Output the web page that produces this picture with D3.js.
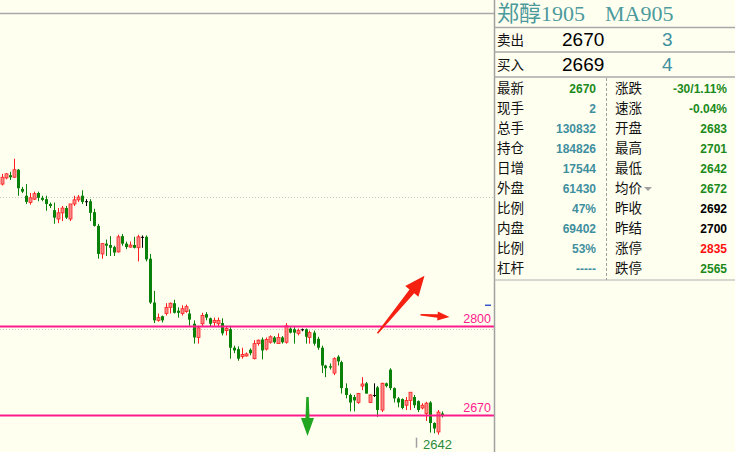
<!DOCTYPE html>
<html>
<head>
<meta charset="utf-8">
<script src="https://cdn.jsdelivr.net/npm/d3@7"></script>
<style>
  html, body { margin: 0; padding: 0; background: #fffff0; }
  svg { display: block; }
</style>
</head>
<body>
<svg id="chart" width="735" height="452"></svg>
<script>
// ---- candle series (price units) ----
const opens  = [3008,3017,3021,3018,3029,3001,2991,2981,2986,2995,2988,2986,2979,2970,2957,2966,2973,2957,2979,2985,
                2991,2983,2983,2967,2947,2906,2921,2919,2916,2909,2932,2921,2916,2919,2915,2931,2931,2899,2835,2809,
                2815,2819,2828,2834,2823,2819,2822,2819,2804,2784,2804,2818,2812,2806,2804,2805,2794,2796,2769,2767,
                2756,2757,2766,2753,2775,2781,2767,2777,2784,2775,2784,2777,2797,2796,2790,2796,2796,2784,2791,2782,
                2769,2743,2742,2732,2756,2748,2710,2700,2697,2689,2713,2717,2689,2700,2711,2678,2717,2737,2710,2695,
                2694,2685,2692,2697,2691,2681,2673,2689,2659,2646,2673];
const highs  = [3023,3024,3026,3045,3030,3004,3008,2995,2997,2997,2991,2991,2981,2981,2973,2976,2976,2979,2991,2992,
                2999,2986,2986,2972,2950,2922,2927,2932,2918,2934,2935,2924,2924,2931,2934,2933,2933,2906,2852,2819,
                2816,2834,2835,2839,2828,2831,2832,2825,2809,2801,2820,2821,2813,2813,2813,2812,2800,2801,2772,2771,
                2769,2762,2768,2780,2781,2784,2784,2787,2786,2790,2786,2805,2799,2799,2797,2797,2797,2794,2794,2785,
                2772,2744,2746,2755,2758,2750,2717,2702,2700,2703,2726,2719,2701,2717,2713,2718,2718,2739,2711,2697,
                2695,2697,2704,2700,2692,2688,2690,2691,2660,2678,2676];
const lows   = [3006,3015,3014,3017,2991,2995,2979,2978,2985,2983,2983,2969,2973,2950,2951,2954,2957,2954,2976,2982,
                2979,2976,2954,2946,2899,2899,2903,2903,2903,2908,2918,2913,2915,2914,2895,2915,2895,2833,2805,2807,
                2806,2816,2819,2819,2813,2816,2820,2801,2775,2775,2801,2809,2800,2801,2799,2787,2787,2753,2761,2750,
                2753,2756,2758,2752,2772,2752,2765,2775,2775,2775,2775,2775,2790,2775,2787,2793,2775,2775,2772,2766,
                2732,2726,2737,2729,2743,2702,2695,2676,2676,2687,2707,2702,2688,2697,2668,2675,2711,2707,2689,2682,
                2679,2678,2678,2681,2675,2679,2662,2645,2644,2642,2667];
const closes = [3018,3023,3018,3029,3002,2997,2982,2988,2994,2988,2985,2979,2976,2959,2966,2973,2959,2979,2985,2989,
                2982,2983,2966,2947,2906,2921,2918,2915,2908,2931,2921,2916,2919,2915,2931,2931,2898,2835,2809,2813,
                2809,2828,2834,2820,2820,2826,2829,2810,2784,2798,2816,2813,2804,2809,2809,2790,2797,2769,2765,2753,
                2759,2760,2761,2775,2780,2765,2781,2785,2777,2784,2777,2801,2791,2791,2794,2796,2785,2791,2775,2769,
                2743,2739,2740,2753,2749,2710,2700,2689,2692,2702,2716,2702,2700,2700,2678,2717,2713,2710,2695,2689,
                2681,2692,2704,2685,2678,2685,2688,2659,2651,2675,2670];

// ---- reference levels ----
const levelPrices = [2800, 2670];
const gridPrices  = [2989, 2796];
const limitMarkPrice = 2831;
const dayLow = 2642;

// ---- annotation arrows: [tailIndex, tailPrice, tipIndex, tipPrice] ----
const upArrow    = [94, 2790, 105.75, 2874];
const sideArrow  = [104.75, 2817, 112, 2814];
const downArrow  = [76.5, 2697, 76.5, 2640];

// ---- quote panel ----
const titleText = ['郑醇1905', 'MA905'];
const quoteLabels = ['卖出', '买入'];
const quotePrices = ['2670', '2669'];
const quoteVolumes = ['3', '4'];
const leftLabels  = ['最新','现手','总手','持仓','日增','外盘','比例','内盘','比例','杠杆'];
const leftValues  = ['2670','2','130832','184826','17544','61430','47%','69402','53%','-----'];
const rightLabels = ['涨跌','速涨','开盘','最高','最低','均价','昨收','昨结','涨停','跌停'];
const rightValues = ['-30/1.11%','-0.04%','2683','2701','2642','2672','2692','2700','2835','2565'];

const TEAL = '#3f8f9f', GREEN = '#1b8a1b', RED = '#ff1010', PINK = '#ff1a8c';
const leftColors  = [GREEN, TEAL, TEAL, TEAL, TEAL, TEAL, TEAL, TEAL, TEAL, TEAL];
const rightColors = [GREEN, GREEN, GREEN, GREEN, GREEN, GREEN, '#000', '#000', RED, GREEN];

const svg = d3.select('#chart');
const W = 735, H = 452, plotRight = 494, plotTop = 13;

svg.append('rect').attr('width', W).attr('height', H).attr('fill', '#fffff0');

const x = d3.scaleLinear().domain([0, 110]).range([1.5, 441.5]);
const y = d3.scaleLinear().domain([2670, 2800]).range([415.5, 326.5]);

svg.append('clipPath').attr('id', 'plotclip')
  .append('rect').attr('x', 0).attr('y', plotTop).attr('width', plotRight).attr('height', H - plotTop);
const plot = svg.append('g').attr('clip-path', 'url(#plotclip)');

// dotted grid lines
plot.selectAll('line.grid').data(gridPrices).join('line')
  .attr('x1', 0).attr('x2', plotRight)
  .attr('y1', d => Math.round(y(d)) + 0.5).attr('y2', d => Math.round(y(d)) + 0.5)
  .attr('stroke', '#c4c4c4').attr('stroke-dasharray', '1,2');

// candles
const candles = d3.range(opens.length).map(i => ({ i, o: opens[i], h: highs[i], l: lows[i], c: closes[i] }));
const colorOf = d => d.c > d.o ? '#ff1c1c' : (d.c < d.o ? '#0a820a' : '#000');

const cg = plot.selectAll('g.candle').data(candles).join('g');
cg.append('line')
  .attr('x1', d => Math.round(x(d.i)) + 0.5).attr('x2', d => Math.round(x(d.i)) + 0.5)
  .attr('y1', d => y(d.h)).attr('y2', d => y(d.l))
  .attr('stroke', colorOf).attr('stroke-width', 1);
cg.append('rect')
  .attr('x', d => Math.round(x(d.i)) - 1)
  .attr('width', 3)
  .attr('y', d => y(Math.max(d.o, d.c)))
  .attr('height', d => Math.max(1, Math.abs(y(d.o) - y(d.c))))
  .attr('fill', d => d.c > d.o ? '#f58a8a' : colorOf(d))
  .attr('stroke', d => d.c > d.o ? '#ff2020' : 'none')
  .attr('stroke-width', 0.8);

// horizontal price levels
plot.selectAll('line.level').data(levelPrices).join('line')
  .attr('x1', 0).attr('x2', plotRight)
  .attr('y1', d => y(d)).attr('y2', d => y(d))
  .attr('stroke', PINK).attr('stroke-width', 2);
plot.selectAll('text.level').data(levelPrices).join('text')
  .attr('x', 491).attr('y', d => y(d) - 3.5)
  .attr('text-anchor', 'end')
  .attr('font-family', 'Liberation Sans, Arial, sans-serif').attr('font-size', 12.5)
  .attr('fill', PINK).text(d => d);

// limit marker on the right edge
plot.append('line')
  .attr('x1', 485).attr('x2', 491)
  .attr('y1', y(limitMarkPrice)).attr('y2', y(limitMarkPrice))
  .attr('stroke', '#3355cc').attr('stroke-width', 1.5);

// day low marker
const lowIdx = lows.indexOf(d3.min(lows));
plot.append('line')
  .attr('x1', Math.round(x(lowIdx)) - 21.5).attr('x2', Math.round(x(lowIdx)) - 21.5)
  .attr('y1', y(dayLow) + 3).attr('y2', y(dayLow) + 13)
  .attr('stroke', '#a0a0a0').attr('stroke-width', 1.5);
plot.append('text')
  .attr('x', Math.round(x(lowIdx)) - 15).attr('y', y(dayLow) + 14)
  .attr('font-family', 'Liberation Sans, Arial, sans-serif').attr('font-size', 13)
  .attr('fill', '#2a8a3a').text(dayLow);

// arrows
function arrowPath(a, headLen, headW, neckW, tailW) {
  const x0 = x(a[0]), y0 = y(a[1]), x1 = x(a[2]), y1 = y(a[3]);
  const len = Math.hypot(x1 - x0, y1 - y0);
  const ux = (x1 - x0) / len, uy = (y1 - y0) / len;
  const nx = -uy, ny = ux;
  const bx = x1 - ux * headLen, by = y1 - uy * headLen;
  const pts = [
    [x0 + nx * tailW / 2, y0 + ny * tailW / 2],
    [bx + nx * neckW / 2, by + ny * neckW / 2],
    [bx + nx * headW / 2, by + ny * headW / 2],
    [x1, y1],
    [bx - nx * headW / 2, by - ny * headW / 2],
    [bx - nx * neckW / 2, by - ny * neckW / 2],
    [x0 - nx * tailW / 2, y0 - ny * tailW / 2]
  ];
  return 'M' + pts.map(p => p.join(',')).join('L') + 'Z';
}
plot.append('path').attr('d', arrowPath(upArrow, 20, 17, 6, 1.5)).attr('fill', '#f5200f');
plot.append('path').attr('d', arrowPath(sideArrow, 12, 9, 3.5, 1.5)).attr('fill', '#f5200f');
plot.append('path').attr('d', arrowPath(downArrow, 18, 13, 4, 2.5)).attr('fill', '#22a622');

// frame lines
svg.append('line').attr('x1', 0).attr('x2', plotRight).attr('y1', 13.5).attr('y2', 13.5)
  .attr('stroke', '#a8a8a8').attr('stroke-width', 1.5);
svg.append('line').attr('x1', 494.5).attr('x2', 494.5).attr('y1', 0).attr('y2', H)
  .attr('stroke', '#a0a0a0').attr('stroke-width', 1.5);

// ---- quote panel ----
const panel = svg.append('g');
const cjk = 'Noto Sans CJK SC, sans-serif';
const num = 'Liberation Sans, Arial, sans-serif';

panel.append('text').attr('x', 497).attr('y', 21)
  .attr('font-family', 'Liberation Serif, Noto Sans CJK SC, serif').attr('font-size', 22)
  .attr('fill', '#4c9a9c')
  .selectAll('tspan').data(titleText).join('tspan')
  .attr('x', (d, i) => i === 0 ? 497 : 605).text(d => d);

[27.5, 52, 77].forEach(yy => {
  panel.append('line').attr('x1', 494).attr('x2', W).attr('y1', yy).attr('y2', yy)
    .attr('stroke', '#a8a8a8').attr('stroke-width', 1.5);
});
panel.append('line').attr('x1', 494).attr('x2', W).attr('y1', 280).attr('y2', 280)
  .attr('stroke', '#b0b0b0').attr('stroke-width', 1);

quoteLabels.forEach((lab, i) => {
  const by = 46 + i * 25;
  panel.append('text').attr('x', 497).attr('y', by - 1)
    .attr('font-family', cjk).attr('font-size', 13.5).attr('fill', '#111').text(lab);
  panel.append('text').attr('x', 562).attr('y', by)
    .attr('font-family', num).attr('font-size', 19).attr('fill', '#000').text(quotePrices[i]);
  panel.append('text').attr('x', 662).attr('y', by)
    .attr('font-family', num).attr('font-size', 19).attr('fill', TEAL).text(quoteVolumes[i]);
});

// dashed column divider
panel.append('line').attr('x1', 606.5).attr('x2', 606.5).attr('y1', 78).attr('y2', 280)
  .attr('stroke', '#a0a0a0').attr('stroke-dasharray', '3,2');

leftLabels.forEach((lab, i) => {
  const cy = 88 + i * 20;
  panel.append('text').attr('x', 497).attr('y', cy + 5)
    .attr('font-family', cjk).attr('font-size', 13.5).attr('fill', '#111').text(lab);
  panel.append('text').attr('x', 596).attr('y', cy + 4.5).attr('text-anchor', 'end')
    .attr('font-family', num).attr('font-size', 12).attr('font-weight', 'bold')
    .attr('fill', leftColors[i]).text(leftValues[i]);
  panel.append('text').attr('x', 615).attr('y', cy + 5)
    .attr('font-family', cjk).attr('font-size', 13.5).attr('fill', '#111').text(rightLabels[i]);
  panel.append('text').attr('x', 727).attr('y', cy + 4.5).attr('text-anchor', 'end')
    .attr('font-family', num).attr('font-size', 12).attr('font-weight', 'bold')
    .attr('fill', rightColors[i]).text(rightValues[i]);
});

// sort indicator next to the average-price label
const avgRow = rightLabels.indexOf('均价');
const ty = 88 + avgRow * 20 + 1;
panel.append('path')
  .attr('d', `M644,${ty - 2}L652,${ty - 2}L648,${ty + 2}Z`)
  .attr('fill', '#a0a0a0');
</script>
</body>
</html>
